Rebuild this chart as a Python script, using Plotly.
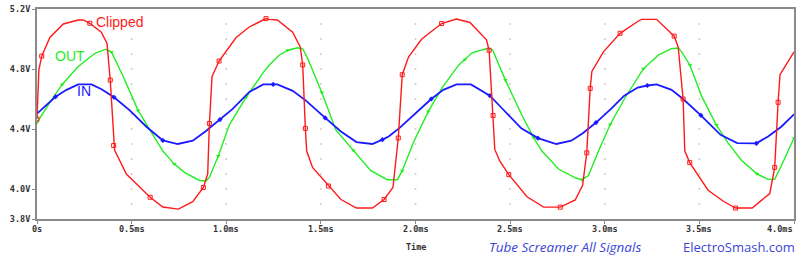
import plotly.graph_objects as go

# ---------------- data (time in ms, voltage in V) ----------------
clip_t = [0.0, 0.01, 0.025, 0.068, 0.139, 0.218, 0.244, 0.279, 0.340, 0.370, 0.387, 0.405, 0.410,
          0.472, 0.598, 0.665, 0.747, 0.823, 0.879, 0.902, 0.911, 0.925, 0.962, 1.052, 1.122,
          1.21, 1.228, 1.27, 1.351, 1.391, 1.404, 1.418, 1.425, 1.456, 1.54, 1.606, 1.688,
          1.772, 1.834, 1.881, 1.909, 1.93, 1.963, 2.033, 2.138, 2.217, 2.288, 2.375, 2.389,
          2.41, 2.419, 2.445, 2.493, 2.589, 2.677, 2.765, 2.844, 2.883, 2.905, 2.923, 2.932,
          2.993, 3.081, 3.178, 3.195, 3.274, 3.367, 3.388, 3.414, 3.423, 3.449, 3.546, 3.625,
          3.691, 3.779, 3.872, 3.898, 3.916, 3.926, 4.0]
clip_v = [4.467, 4.795, 4.886, 5.01, 5.10, 5.127, 5.127, 5.105, 5.045, 4.97, 4.726, 4.29, 4.26,
          4.10, 3.945, 3.88, 3.866, 3.916, 4.01, 4.10, 4.437, 4.75, 4.853, 5.01, 5.08,
          5.136, 5.131, 5.127, 5.045, 4.947, 4.827, 4.404, 4.253, 4.144, 4.02, 3.93, 3.873,
          3.873, 3.93, 4.01, 4.34, 4.762, 4.88, 5.0, 5.103, 5.133, 5.11, 4.995, 4.925,
          4.49, 4.264, 4.187, 4.096, 3.948, 3.879, 3.879, 3.927, 4.025, 4.241, 4.671, 4.784,
          4.914, 5.038, 5.12, 5.131, 5.131, 5.019, 4.947, 4.60, 4.253, 4.176, 3.992, 3.92,
          3.873, 3.873, 3.97, 4.144, 4.578, 4.762, 4.914]
clip_mark_t = [0.0, 0.025, 0.279, 0.387, 0.405, 0.598, 0.879, 0.911, 0.962, 1.21, 1.404, 1.418,
               1.54, 1.834, 1.909, 1.93, 2.138, 2.389, 2.41, 2.493, 2.765, 2.905, 2.923, 3.081,
               3.367, 3.414, 3.449, 3.691, 3.898, 3.916]
clip_mark_v = [4.467, 4.886, 5.105, 4.726, 4.29, 3.945, 4.01, 4.437, 4.853, 5.136, 4.827, 4.404,
               4.02, 3.93, 4.34, 4.762, 5.103, 4.925, 4.49, 4.096, 3.879, 4.241, 4.671, 5.038,
               5.019, 4.60, 4.176, 3.873, 4.144, 4.578]

out_t = [0.0, 0.068, 0.133, 0.218, 0.305, 0.363, 0.393, 0.455, 0.534, 0.595, 0.665, 0.726,
         0.779, 0.858, 0.893, 0.911, 0.958, 1.016, 1.104, 1.2, 1.228, 1.279, 1.325, 1.377,
         1.404, 1.43, 1.505, 1.579, 1.672, 1.764, 1.851, 1.904, 1.93, 1.992, 2.068, 2.141,
         2.229, 2.261, 2.299, 2.387, 2.408, 2.475, 2.493, 2.545, 2.563, 2.624, 2.668, 2.756,
         2.844, 2.879, 2.914, 2.967, 3.029, 3.108, 3.125, 3.178, 3.204, 3.283, 3.353, 3.389,
         3.406, 3.45, 3.511, 3.59, 3.652, 3.722, 3.804, 3.863, 3.898, 3.933, 4.0]
out_v = [4.443, 4.578, 4.697, 4.817, 4.903, 4.932, 4.914, 4.752, 4.524, 4.394, 4.253, 4.166,
         4.111, 4.057, 4.053, 4.079, 4.22, 4.426, 4.61, 4.784, 4.827, 4.892, 4.925, 4.942,
         4.935, 4.871, 4.643, 4.394, 4.257, 4.122, 4.062, 4.062, 4.122, 4.318, 4.517, 4.676,
         4.827, 4.864, 4.908, 4.94, 4.925, 4.726, 4.676, 4.534, 4.49, 4.343, 4.253, 4.133,
         4.075, 4.062, 4.09, 4.253, 4.43, 4.61, 4.643, 4.752, 4.801, 4.892, 4.936, 4.94,
         4.914, 4.827, 4.621, 4.426, 4.306, 4.192, 4.101, 4.064, 4.064, 4.155, 4.339]
out_mark_t = [0.0, 0.133, 0.393, 0.534, 0.726, 0.958, 1.104, 1.325, 1.505, 1.672, 1.93, 2.068,
              2.261, 2.475, 2.624, 2.879, 3.029, 3.204, 3.45, 3.59, 3.804, 4.0]
out_mark_v = [4.443, 4.697, 4.914, 4.524, 4.166, 4.22, 4.61, 4.925, 4.643, 4.257, 4.122, 4.517,
              4.864, 4.726, 4.343, 4.062, 4.43, 4.801, 4.827, 4.426, 4.101, 4.339]

in_t = [0.0, 0.098, 0.156, 0.218, 0.288, 0.341, 0.407, 0.49, 0.578, 0.63, 0.665, 0.744,
        0.823, 0.893, 0.967, 1.034, 1.122, 1.195, 1.248, 1.27, 1.351, 1.421, 1.523, 1.606,
        1.688, 1.772, 1.825, 1.858, 1.913, 1.998, 2.083, 2.147, 2.217, 2.293, 2.393, 2.463,
        2.559, 2.647, 2.744, 2.823, 2.884, 2.954, 3.033, 3.103, 3.174, 3.225, 3.274, 3.353,
        3.414, 3.508, 3.612, 3.7, 3.801, 3.863, 3.933, 4.0]
in_v = [4.502, 4.615, 4.661, 4.697, 4.697, 4.665, 4.611, 4.524, 4.415, 4.36, 4.324, 4.30,
        4.322, 4.387, 4.463, 4.534, 4.647, 4.697, 4.697, 4.697, 4.654, 4.589, 4.474, 4.383,
        4.313, 4.30, 4.329, 4.35, 4.404, 4.502, 4.60, 4.661, 4.697, 4.697, 4.622, 4.53,
        4.404, 4.339, 4.30, 4.322, 4.372, 4.443, 4.534, 4.622, 4.676, 4.69, 4.697, 4.661,
        4.60, 4.491, 4.361, 4.306, 4.304, 4.35, 4.415, 4.498]
in_mark_t = [0.098, 0.407, 0.665, 0.967, 1.248, 1.523, 1.825, 2.083, 2.393, 2.647, 2.954,
             3.225, 3.508, 3.801]
in_mark_v = [4.615, 4.611, 4.324, 4.463, 4.697, 4.474, 4.329, 4.60, 4.622, 4.339, 4.443,
             4.69, 4.491, 4.304]

x_tick_vals = [0, 0.5, 1.0, 1.5, 2.0, 2.5, 3.0, 3.5, 4.0]
x_tick_text = ["0s", "0.5ms", "1.0ms", "1.5ms", "2.0ms", "2.5ms", "3.0ms", "3.5ms", "4.0ms"]
y_tick_vals = [3.8, 4.0, 4.4, 4.8, 5.2]
y_tick_text = ["3.8V", "4.0V", "4.4V", "4.8V", "5.2V"]
grid_x = [0.5, 1.0, 1.5, 2.0, 2.5, 3.0, 3.5]
grid_y = [3.9, 4.0, 4.1, 4.2, 4.3, 4.4, 4.5, 4.6, 4.7, 4.8, 4.9, 5.0, 5.1]

RED = "#ff1a1a"
GREEN = "#22ee22"
BLUE = "#1a1aff"
TXT_BLUE = "#3a46d8"
AXIS_TXT = "#333333"

fig = go.Figure()

# dotted grid
gx = [x for x in grid_x for _ in grid_y]
gy = [y for _ in grid_x for y in grid_y]
fig.add_trace(go.Scatter(x=gx, y=gy, mode="markers",
                         marker=dict(size=1.6, color="#c4c4c4", symbol="square"),
                         hoverinfo="skip", showlegend=False))

fig.add_trace(go.Scatter(x=out_t, y=out_v, mode="lines",
                         line=dict(color=GREEN, width=1.4), showlegend=False))
fig.add_trace(go.Scatter(x=out_mark_t, y=out_mark_v, mode="markers",
                         marker=dict(symbol="triangle-down", size=4, color=GREEN),
                         showlegend=False))
fig.add_trace(go.Scatter(x=in_t, y=in_v, mode="lines",
                         line=dict(color=BLUE, width=1.8), showlegend=False))
fig.add_trace(go.Scatter(x=in_mark_t, y=in_mark_v, mode="markers",
                         marker=dict(symbol="diamond", size=4, color=BLUE),
                         showlegend=False))
fig.add_trace(go.Scatter(x=clip_t, y=clip_v, mode="lines",
                         line=dict(color=RED, width=1.4), showlegend=False))
fig.add_trace(go.Scatter(x=clip_mark_t, y=clip_mark_v, mode="markers",
                         marker=dict(symbol="square-open", size=4, color=RED,
                                     line=dict(width=1, color=RED)),
                         showlegend=False))

tick_font = dict(family="DejaVu Sans Mono", size=8.5, color=AXIS_TXT)

fig.update_layout(
    width=800, height=257,
    margin=dict(l=37, r=4, t=4, b=38),
    paper_bgcolor="white", plot_bgcolor="white",
    xaxis=dict(range=[0, 4], tickvals=x_tick_vals, showticklabels=False,
               showgrid=False, zeroline=False, showline=True, mirror=True,
               linecolor="#8a8a8a", linewidth=2, ticks="outside", ticklen=3,
               tickcolor="#8a8a8a"),
    yaxis=dict(range=[3.8, 5.2], tickvals=y_tick_vals,
               ticktext=["<b>%s</b>" % t for t in y_tick_text],
               showgrid=False, zeroline=False, showline=True, mirror=True,
               linecolor="#8a8a8a", linewidth=2, ticks="outside", ticklen=3,
               tickcolor="#8a8a8a", tickfont=tick_font),
    font=dict(family="DejaVu Sans"),
)

# x tick labels (last one kept inside the page, right-aligned)
for i, (v, t) in enumerate(zip(x_tick_vals, x_tick_text)):
    last = i == len(x_tick_vals) - 1
    fig.add_annotation(x=v, xref="x", y=-0.018, yref="paper", yanchor="top",
                       xanchor="right" if last else "center", borderpad=0,
                       text="<b>%s</b>" % t, showarrow=False, font=tick_font)

label_font = "Liberation Sans"
fig.add_annotation(x=0.437, y=5.115, text="Clipped", showarrow=False,
                   font=dict(family=label_font, size=14, color=RED))
fig.add_annotation(x=0.174, y=4.885, text="OUT", showarrow=False,
                   font=dict(family=label_font, size=14, color=GREEN))
fig.add_annotation(x=0.248, y=4.655, text="IN", showarrow=False,
                   font=dict(family=label_font, size=14, color=BLUE))

fig.add_annotation(xref="paper", yref="paper", x=0.5007, y=-0.135, xanchor="center",
                   yanchor="middle", text="<b>Time</b>", borderpad=0,
                   showarrow=False, font=dict(family="DejaVu Sans Mono", size=8.5, color=AXIS_TXT))
fig.add_annotation(xref="paper", yref="paper", x=0.697, y=-0.132, xanchor="center",
                   yanchor="middle", text="<i>Tube Screamer All Signals</i>", borderpad=0,
                   showarrow=False, font=dict(family="Open Sans", size=13.5, color=TXT_BLUE))
fig.add_annotation(xref="paper", yref="paper", x=0.928, y=-0.132, xanchor="center",
                   yanchor="middle", text="ElectroSmash.com", borderpad=0,
                   showarrow=False, font=dict(family="Open Sans", size=13, color=TXT_BLUE))

fig.write_html("out.html")
